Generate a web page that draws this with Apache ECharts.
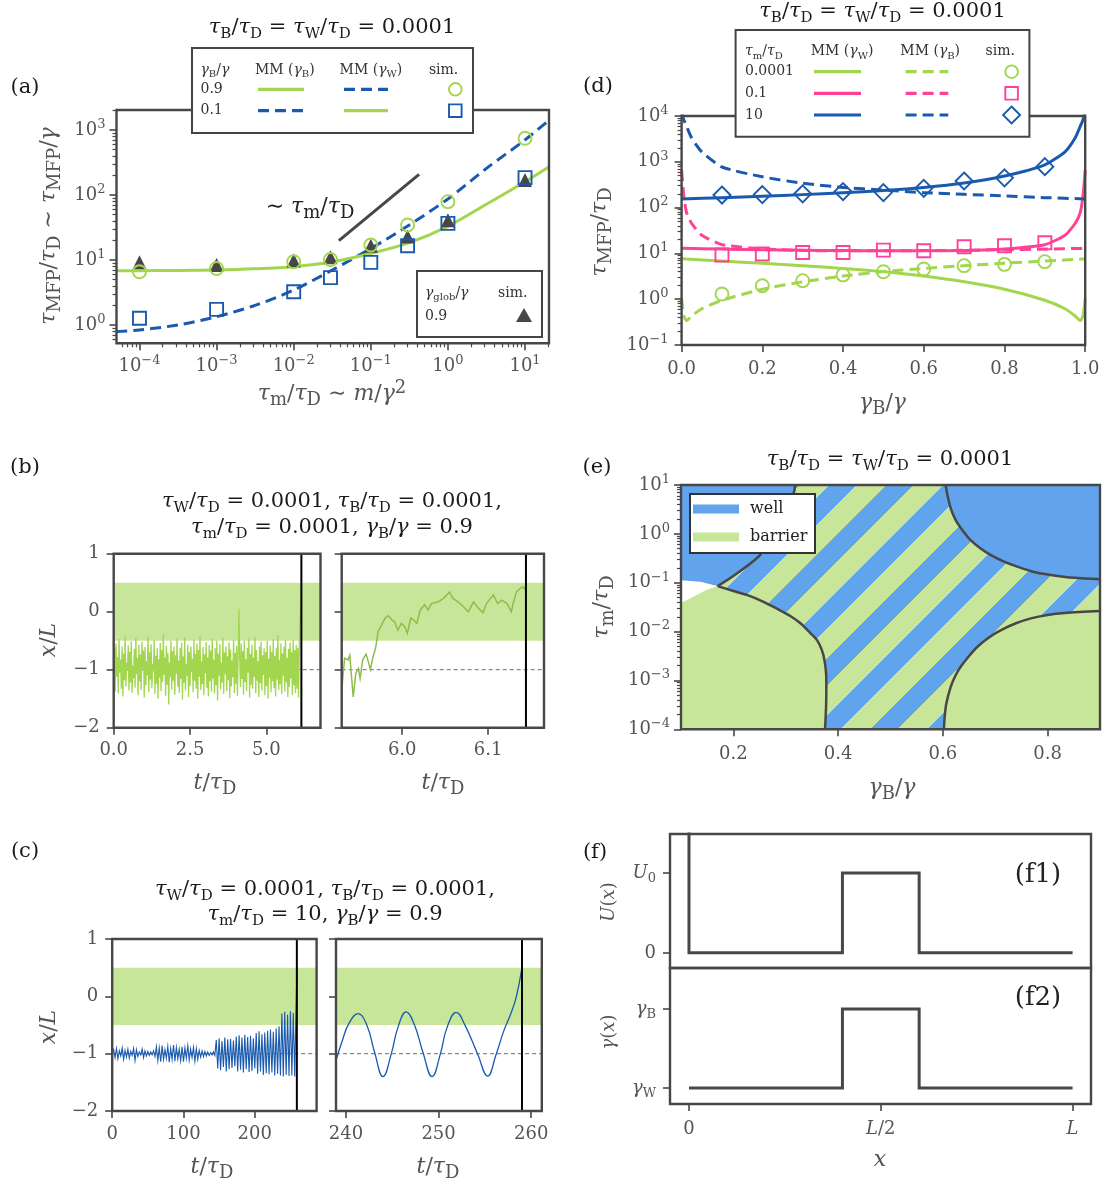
<!DOCTYPE html>
<html>
<head>
<meta charset="utf-8">
<script src="https://cdn.jsdelivr.net/npm/echarts@6/dist/echarts.min.js"></script>
<style>
html,body{margin:0;padding:0;background:#fff;}
#chart{width:1104px;height:1182px;}
</style>
</head>
<body>
<div id="chart"></div>
<script>
// ================= DATA =================
// ---- Panel (a) ----
const aTickExpX = [-4, -3, -2, -1, 0, 1];
const aTickExpY = [0, 1, 2, 3];
const aSimX = [1e-4, 1e-3, 1e-2, 0.03, 0.1, 0.3, 1, 10];
const aSimCircle = [6.6, 7.4, 9.4, 10.2, 17, 34.6, 79, 745];
const aSimSquare = [1.27, 1.74, 3.25, 5.35, 9.2, 16.6, 36.6, 185];
const aSimTriangle = [9.2, 8.4, 9.8, 11, 16.5, 23, 41, 170];
const aCurveX = [5e-5, 1e-4, 3.16e-4, 1e-3, 3.16e-3, 1e-2, 3.16e-2, 0.1, 0.316, 1, 3.16, 10, 20.5];
const aCurveGreen = [6.8, 6.85, 6.9, 7.0, 7.3, 7.9, 9.4, 12.6, 18.5, 33, 72, 160, 273];
const aCurveBlue = [0.79, 0.84, 1.0, 1.34, 2.0, 3.45, 7.0, 15, 34.6, 87, 257, 705, 1420];
const aSlopeX = [0.0386, 0.4227];
const aSlopeY = [19.8, 208];

// ---- Panel (d) ----
const dTicksX = [0, 0.2, 0.4, 0.6, 0.8, 1.0];
const dTickExpY = [-1, 0, 1, 2, 3, 4];
const dXSolid = [0, 0.1, 0.2, 0.3, 0.4, 0.5, 0.6, 0.7, 0.8, 0.9, 0.95, 0.975, 0.988, 0.995, 1.0];
const dGreenSolid = [7.6, 6.8, 6.1, 5.4, 4.7, 4.0, 3.2, 2.4, 1.65, 0.95, 0.62, 0.43, 0.34, 0.45, 1.05];
const dPinkSolid = [12.9, 12.4, 12.0, 11.7, 11.5, 11.4, 11.4, 11.6, 12.5, 15.5, 25, 45, 80, 200, 660];
const dBlueSolid = [155, 165, 176, 192, 212, 236, 275, 345, 490, 860, 1650, 3300, 6000, 8500, 12000];
const dXDashed = [0, 0.005, 0.012, 0.025, 0.05, 0.1, 0.2, 0.3, 0.4, 0.5, 0.6, 0.7, 0.8, 0.9, 1.0];
const dGreenDashed = [1.05, 0.45, 0.34, 0.43, 0.62, 0.95, 1.65, 2.4, 3.2, 4.0, 4.7, 5.4, 6.1, 6.8, 7.6];
const dPinkDashed = [660, 200, 80, 45, 25, 15.5, 12.5, 11.6, 11.4, 11.4, 11.5, 11.7, 12.0, 12.4, 12.9];
const dBlueDashed = [12000, 8500, 6000, 3300, 1650, 770, 470, 340, 275, 242, 212, 195, 180, 165, 155];
const dSimX = [0.1, 0.2, 0.3, 0.4, 0.5, 0.6, 0.7, 0.8, 0.9];
const dSimGreen = [1.3, 1.97, 2.54, 3.39, 3.98, 4.57, 5.4, 5.76, 6.6];
const dSimPink = [9.2, 9.7, 10.5, 10.5, 11.8, 11.4, 14.0, 14.7, 17.1];
const dSimBlue = [188, 192, 200, 224, 213, 263, 381, 447, 783];

// ---- Panels (b), (c) shared ----
const xLTicks = [-2, -1, 0, 1];
const barrierLow = -0.5, barrierHigh = 0.5, wellCenter = -1;

// ---- Panel (b) ----
const bLeftTicksX = [0, 2.5, 5.0];
const bRightTicksX = [6.0, 6.1];
const bHitTime = 6.144;
const bLeftT0 = 0, bLeftDt = 0.025;
const bLeftX = [
 -1.25,-0.62,-1.38,-0.55,-1.12,-0.78,-1.41,-0.47,-1.05,-0.83,-1.33,-0.60,-1.46,-0.72,-1.18,-0.41,-1.29,-0.88,-1.02,-0.58,
 -1.36,-0.69,-1.22,-0.51,-1.40,-0.93,-1.15,-0.64,-1.31,-0.45,-1.08,-0.80,-1.44,-0.57,-1.20,-0.74,-1.35,-0.52,-0.98,-0.67,
 -1.48,-0.61,-1.27,-0.85,-1.10,-0.43,-1.39,-0.70,-1.17,-0.56,-1.32,-0.90,-1.03,-0.49,-1.42,-0.76,-1.24,-0.63,-1.50,-0.82,
 -1.14,-0.54,-1.37,-0.66,-1.21,-0.38,-1.09,-0.79,-1.45,-0.59,-1.26,-0.71,-1.60,-0.87,-1.13,-0.50,-1.34,-0.68,-1.19,-0.60,
 -1.43,-0.75,-1.07,-0.46,-1.30,-0.84,-1.40,-0.62,-1.16,-0.53,-1.52,-0.77,-1.23,-0.44,-1.36,-0.90,-1.11,-0.57,-1.47,-0.69,
 -1.28,-0.60,-1.04,-0.81,-1.39,-0.48,-1.19,-0.73,-1.33,-0.55,-1.50,-0.66,-1.12,-0.42,-1.35,-0.86,-1.25,-0.61,-1.44,-0.74,
 -1.06,-0.52,-1.31,-0.79,-1.46,-0.58,-1.20,-0.67,-1.38,-0.47,-1.15,-0.83,-1.41,-0.63,-1.27,-0.50,-1.53,-0.72,-1.10,-0.56,
 -1.34,-0.88,-1.22,-0.45,-1.42,-0.70,-1.08,-0.60,-1.37,-0.77,-1.18,-0.53,-1.49,-0.65,-1.29,-0.84,-1.13,-0.48,-1.40,-0.71,
 -1.24,-0.59,-1.45,-0.74,0.05,-0.80,-1.30,-0.55,-1.16,-0.68,-1.43,-0.50,-1.21,-0.82,-1.37,-0.62,-1.05,-0.46,-1.48,-0.73,
 -1.26,-0.57,-1.33,-0.79,-1.12,-0.44,-1.41,-0.66,-1.19,-0.85,-1.47,-0.60,-1.23,-0.52,-1.36,-0.75,-1.09,-0.63,-1.44,-0.70,
 -1.28,-0.50,-1.50,-0.81,-1.14,-0.58,-1.39,-0.69,-1.20,-0.47,-1.32,-0.76,-1.46,-0.62,-1.17,-0.40,-1.35,-0.83,-1.25,-0.55,
 -1.42,-0.72,-1.10,-0.60,-1.38,-0.49,-1.22,-0.80,-1.47,-0.64,-1.30,-0.53,-1.15,-0.70,-1.44,-0.48,-1.27,-0.66,-1.40,-0.57,
 -1.33,-0.62,-1.48
];
const bLeftTailT = [6.075, 6.1, 6.125, 6.144];
const bLeftTailX = [-0.6, -0.15, 0.1, 0.35];
const bRightT = [5.93,5.933,5.937,5.939,5.943,5.946,5.949,5.951,5.954,5.958,5.960,5.963,5.966,5.969,5.972,5.976,5.980,5.984,5.988,5.991,5.995,5.999,6.003,6.006,6.010,6.013,6.017,6.021,6.026,6.030,6.034,6.042,6.048,6.052,6.055,6.059,6.065,6.071,6.077,6.083,6.087,6.094,6.098,6.106,6.111,6.116,6.122,6.127,6.129,6.133,6.137,6.141,6.143];
const bRightX = [-1.29,-0.80,-0.83,-0.75,-1.47,-1.06,-0.98,-1.15,-0.83,-0.73,-0.83,-1.0,-0.78,-0.63,-0.34,-0.23,-0.11,-0.07,-0.14,-0.17,-0.32,-0.20,-0.26,-0.37,-0.11,-0.14,-0.20,0.03,0.12,0.03,0.14,0.17,0.23,0.29,0.34,0.23,0.17,0.09,0.0,0.17,0.09,-0.02,0.14,0.29,0.14,0.20,0.14,0.0,0.14,0.34,0.40,0.43,0.37];

// ---- Panel (c) ----
const cLeftTicksX = [0, 100, 200];
const cRightTicksX = [240, 250, 260];
const cHitTime = 259.0;
const cLeftT0 = 0, cLeftDt = 2.0;
const cLeftX = [
 -1.00,-0.93,-1.07,-0.91,-1.09,-0.95,-1.04,-0.90,-1.10,-0.94,-1.06,-0.92,-1.08,-0.96,-1.03,-0.91,-1.12,-0.93,-1.05,-0.97,-1.02,-0.92,-1.07,-0.95,-1.04,-0.96,-1.03,-0.97,-1.02,-0.95,-1.05,
 -0.88,-1.12,-0.90,-1.14,-0.86,-1.10,-0.93,-1.08,-0.87,-1.15,-0.91,-1.10,-0.85,-1.13,-0.89,-1.09,-0.92,-1.12,-0.88,-1.14,-0.90,-1.08,-0.86,-1.11,-0.92,-1.07,-0.89,-1.13,-0.91,-1.10,-0.94,-1.06,-0.95,-1.05,-0.96,-1.04,-0.97,-1.03,-0.98,-1.02,-0.97,-1.03,
 -0.76,-1.26,-0.73,-1.29,-0.78,-1.23,-0.72,-1.31,-0.75,-1.27,-0.74,-1.25,-0.77,
 -1.22,-0.70,-1.31,-0.68,-1.28,-0.72,-1.33,-0.67,-1.27,-0.71,-1.32,-0.69,-1.30,-0.73,-1.26,
 -0.64,-1.35,-0.61,-1.31,-0.66,-1.37,-0.63,-1.34,-0.60,-1.36,-0.58,-1.33,-0.62,-1.38,-0.56,-1.35,-0.52,
 -1.38,-0.30,-1.40,-0.27,-1.37,-0.32,-1.39,-0.26,-1.38,-0.29,-1.40
];
const cLeftTailT = [257.3, 258.2, 259.0];
const cLeftTailX = [-0.55, -0.05, 0.5];
const cRightT = [239.0,239.6,240.3,241.3,242.3,243.1,244.0,244.9,245.6,246.5,247.4,248.3,249.3,250.2,250.9,251.9,252.9,254.2,255.3,256.2,257.0,257.8,258.4,259.0];
const cRightX = [-1.08,-0.78,-0.48,-0.30,-0.52,-0.98,-1.40,-1.00,-0.55,-0.27,-0.50,-0.97,-1.40,-1.00,-0.55,-0.28,-0.52,-1.00,-1.39,-1.02,-0.62,-0.30,0.0,0.50];

// ---- Panel (e) ----
const eTicksX = [0.2, 0.4, 0.6, 0.8];
const eTickExpY = [-4, -3, -2, -1, 0, 1];
const eC1LowX = [0.170, 0.200, 0.2257, 0.2576, 0.283, 0.3086, 0.328, 0.347, 0.360, 0.369, 0.374, 0.377, 0.3775, 0.377, 0.375];
const eC1LowY = [-1.07, -1.17, -1.25, -1.39, -1.53, -1.68, -1.83, -2.03, -2.18, -2.38, -2.59, -2.86, -3.13, -3.54, -4.0];
const eC1UpX = [0.170, 0.2066, 0.251, 0.2897, 0.315, 0.318];
const eC1UpY = [-1.07, -0.81, -0.43, 0.215, 0.83, 1.0];
const eWhiteTopX = [0.1, 0.1364, 0.170];
const eWhiteTopY = [-0.947, -0.98, -1.07];
const eWhiteBotX = [0.1, 0.1235, 0.149, 0.170];
const eWhiteBotY = [-1.42, -1.29, -1.15, -1.07];
const eC2X = [0.6054, 0.6086, 0.615, 0.6245, 0.637, 0.653, 0.672, 0.691, 0.717, 0.742, 0.774, 0.800, 0.851, 0.9];
const eC2Y = [1.0, 0.80, 0.52, 0.28, 0.08, -0.13, -0.30, -0.43, -0.57, -0.67, -0.78, -0.83, -0.90, -0.93];
const eC3X = [0.602, 0.6034, 0.6066, 0.615, 0.6245, 0.634, 0.650, 0.666, 0.688, 0.711, 0.7395, 0.768, 0.800, 0.832, 0.9];
const eC3Y = [-4.0, -3.75, -3.47, -3.13, -2.89, -2.72, -2.50, -2.31, -2.12, -1.97, -1.83, -1.73, -1.66, -1.62, -1.58];

// ---- Panel (f) ----
const fEdgesX = [0, 0.4, 0.6, 1.0];
const fULevels = [0, 1, 0];
const fUWallTop = 1.7;
const fGammaLevels = [0, 1, 0];
const fTicksX = [0, 0.5, 1];
const fTickLabelsX = ['{n|0}', '{i|L}{n|/2}', '{i|L}'];
const fTicksY = [0, 1];
const fTickLabelsU = ['{n|0}', '{i|U}{s|0}'];
const fTickLabelsG = ['{i|γ}{s|W}', '{i|γ}{s|B}'];

// ================= STYLE =================
const FONT = 'DejaVu Serif';
const GREEN = '#a2d64f', BLUE = '#1a5aae', PINK = '#ff4296', DARK = '#474747', GREY = '#555555';
const BAND = '#c8e69a', E_BLUE = '#62a3ee', E_GREEN = '#c8e69a';
const LBL = 18;

function rich(size, color, subRatio) {
  const sub = Math.round(size * (subRatio || 0.72)), lh = Math.round(size * 1.35);
  const b = {fontFamily: FONT, color: color, fill: color};
  return {
    n: Object.assign({fontSize: size, lineHeight: lh}, b),
    i: Object.assign({fontSize: size, lineHeight: lh, fontStyle: 'italic'}, b),
    s: Object.assign({fontSize: sub, lineHeight: sub, verticalAlign: 'bottom'}, b),
    p: Object.assign({fontSize: sub, lineHeight: sub, verticalAlign: 'top'}, b)
  };
}
const L10 = v => Math.log10(v);
const lg = arr => arr.map(L10);
const zip = (xs, ys) => xs.map((x, i) => [x, ys[i]]);
const minus = v => (v < 0 ? '\u2212' : '') + Math.abs(v);
const logFmt = v => '{n|10}{p|' + minus(Math.round(v)) + '}';
const numFmt = d => (v => '{n|' + (v < 0 ? '\u2212' : '') + Math.abs(v).toFixed(d) + '}');
function minorOf(lo, hi) {
  const out = [];
  for (let d = Math.floor(lo) - 1; d <= Math.ceil(hi); d++)
    for (let k = 2; k <= 9; k++) { const v = d + Math.log10(k); if (v > lo && v < hi) out.push(v); }
  return out;
}
const tau = s => '{i|τ}{s|' + s + '}';
const gam = s => '{i|γ}{s|' + s + '}';

// ================= BUILDERS =================
const GR = [], XA = [], YA = [], SE = [], GFX = [];
function grid(l, t, w, h) {
  GR.push({left: l, top: t, width: w, height: h, show: true, borderColor: DARK, borderWidth: 2.4,
    backgroundColor: 'rgba(0,0,0,0)', z: 10});
  return GR.length - 1;
}
function axis(list, gi, min, max, pos, ticks, fmt, o) {
  o = o || {};
  const has = ticks && ticks.length > 0;
  list.push({
    type: 'value', gridIndex: gi, min: min, max: max, position: pos, offset: 0, z: 12,
    axisLine: {show: false, onZero: false}, splitLine: {show: false}, splitArea: {show: false},
    axisTick: {show: has, inside: false, length: o.len || 7, lineStyle: {color: DARK, width: o.tw || 1.6}, customValues: has ? ticks : undefined},
    minorTick: {show: false},
    axisLabel: {show: has && !!fmt, customValues: has ? ticks : undefined, formatter: fmt || undefined, margin: o.margin || 12,
      color: GREY, fontFamily: FONT, fontSize: LBL, rich: rich(LBL, GREY), hideOverlap: false}
  });
  return list.length - 1;
}
function lineS(xi, yi, data, color, width, dash, z, smooth) {
  SE.push({type: 'line', xAxisIndex: xi, yAxisIndex: yi, data: data, showSymbol: false, symbol: 'none',
    smooth: smooth || false, clip: true, silent: true,
    lineStyle: {color: color, width: width, type: dash || 'solid', cap: 'butt', join: 'miter'},
    itemStyle: {color: color}, z: z || 3});
}
function scatS(xi, yi, data, symbol, size, stroke, fill, z) {
  SE.push({type: 'scatter', xAxisIndex: xi, yAxisIndex: yi, data: data, symbol: symbol, symbolSize: size, silent: true,
    itemStyle: {color: fill, borderColor: stroke, borderWidth: fill === 'rgba(0,0,0,0)' ? 1.9 : 0, opacity: 1}, z: z || 5});
}
function polyS(xi, yi, pts, fill, z) {
  SE.push({type: 'custom', xAxisIndex: xi, yAxisIndex: yi, coordinateSystem: 'cartesian2d', silent: true, z: z,
    data: [[pts[0][0], pts[0][1]]], encode: {x: 0, y: 1},
    renderItem: (p, api) => ({type: 'polygon', shape: {points: pts.map(q => api.coord(q))}, style: {fill: fill, stroke: null}})});
}
function bandS(xi, yi, x0, x1, lo, hi) {
  SE.push({type: 'custom', xAxisIndex: xi, yAxisIndex: yi, coordinateSystem: 'cartesian2d', silent: true, z: 1,
    data: [[x0, lo, x1, hi]], encode: {x: [0, 2], y: [1, 3]},
    renderItem: (p, api) => {
      const a = api.coord([api.value(0), api.value(3)]), b = api.coord([api.value(2), api.value(1)]);
      return {type: 'rect', shape: {x: a[0], y: a[1], width: b[0] - a[0], height: b[1] - a[1]}, style: {fill: BAND}};
    }});
}
function gText(x, y, text, size, color, align, va, rot, subRatio) {
  GFX.push({type: 'text', x: x, y: y, rotation: rot || 0, z: 100, silent: true,
    style: {text: text, fill: color, fontFamily: FONT, fontSize: size, align: align || 'center', verticalAlign: va || 'middle',
      textAlign: align || 'center', textVerticalAlign: va || 'middle', rich: rich(size, color, subRatio)}});
}
function gLine(x1, y1, x2, y2, color, w, dash) {
  GFX.push({type: 'line', z: 100, silent: true, shape: {x1: x1, y1: y1, x2: x2, y2: y2},
    style: {stroke: color, lineWidth: w, lineDash: dash || null, lineCap: 'butt'}});
}
function gRect(x, y, w, h, fill, stroke, lw, z) {
  GFX.push({type: 'rect', z: z || 99, silent: true, shape: {x: x, y: y, width: w, height: h}, style: {fill: fill, stroke: stroke, lineWidth: lw || 0}});
}
function gCircle(cx, cy, r, stroke) {
  GFX.push({type: 'circle', z: 100, silent: true, shape: {cx: cx, cy: cy, r: r}, style: {fill: 'none', stroke: stroke, lineWidth: 1.9}});
}
function gPoly(pts, fill, stroke, lw) {
  GFX.push({type: 'polygon', z: 100, silent: true, shape: {points: pts}, style: {fill: fill, stroke: stroke || null, lineWidth: lw || 0}});
}

// stripe pattern for (e)
function stripeCanvas() {
  const P = 57, W = 27, c = 3;
  const cv = document.createElement('canvas'); cv.width = P; cv.height = P;
  const ctx = cv.getContext('2d'); const img = ctx.createImageData(P, P);
  const b = [0x62, 0xa3, 0xee], g = [0xc8, 0xe6, 0x9a];
  for (let y = 0; y < P; y++) for (let x = 0; x < P; x++) {
    const k = (((x + y - c) % P) + P) % P; const col = k < W ? b : g; const o = (y * P + x) * 4;
    img.data[o] = col[0]; img.data[o + 1] = col[1]; img.data[o + 2] = col[2]; img.data[o + 3] = 255;
  }
  ctx.putImageData(img, 0, 0);
  return cv;
}

// ================= PANEL (a) =================
const gA = grid(116.5, 110, 432.5, 233.3);
const AX0 = -4.298, AX1 = 1.311, AY0 = -0.282, AY1 = 3.308;
const axA = axis(XA, gA, AX0, AX1, 'bottom', aTickExpX, logFmt, {margin: 11});
axis(XA, gA, AX0, AX1, 'bottom', minorOf(AX0, AX1), null, {len: 4, tw: 1.2});
const ayA = axis(YA, gA, AY0, AY1, 'left', aTickExpY, logFmt, {margin: 11});
axis(YA, gA, AY0, AY1, 'left', minorOf(AY0, AY1), null, {len: 4, tw: 1.2});
lineS(axA, ayA, zip(lg(aCurveX), lg(aCurveBlue)), BLUE, 3, [11, 6], 3, 0.3);
lineS(axA, ayA, zip(lg(aCurveX), lg(aCurveGreen)), GREEN, 3, 'solid', 3, 0.3);
lineS(axA, ayA, zip(lg(aSlopeX), lg(aSlopeY)), DARK, 3, 'solid', 3);
scatS(axA, ayA, zip(lg(aSimX), lg(aSimTriangle)), 'triangle', 14, DARK, DARK, 4);
scatS(axA, ayA, zip(lg(aSimX), lg(aSimCircle)), 'circle', 13, GREEN, 'rgba(0,0,0,0)', 5);
scatS(axA, ayA, zip(lg(aSimX), lg(aSimSquare)), 'rect', 13, BLUE, 'rgba(0,0,0,0)', 5);

// ================= PANEL (d) =================
const gD = grid(681.6, 116, 403.6, 229);
const axD = axis(XA, gD, 0, 1, 'bottom', dTicksX, numFmt(1), {margin: 12});
const ayD = axis(YA, gD, -1, 4, 'left', dTickExpY, logFmt, {margin: 13});
axis(YA, gD, -1, 4, 'left', minorOf(-1, 4), null, {len: 4, tw: 1.2});
lineS(axD, ayD, zip(dXSolid, lg(dGreenSolid)), GREEN, 3, 'solid', 3, 0.2);
lineS(axD, ayD, zip(dXDashed, lg(dGreenDashed)), GREEN, 3, [11, 6], 3, 0.2);
lineS(axD, ayD, zip(dXSolid, lg(dPinkSolid)), PINK, 3, 'solid', 3, 0.2);
lineS(axD, ayD, zip(dXDashed, lg(dPinkDashed)), PINK, 3, [11, 6], 3, 0.2);
lineS(axD, ayD, zip(dXSolid, lg(dBlueSolid)), BLUE, 3, 'solid', 3, 0.2);
lineS(axD, ayD, zip(dXDashed, lg(dBlueDashed)), BLUE, 3, [11, 6], 3, 0.2);
scatS(axD, ayD, zip(dSimX, lg(dSimGreen)), 'circle', 13, GREEN, 'rgba(0,0,0,0)', 5);
scatS(axD, ayD, zip(dSimX, lg(dSimPink)), 'rect', 13, PINK, 'rgba(0,0,0,0)', 5);
scatS(axD, ayD, zip(dSimX, lg(dSimBlue)), 'diamond', 17, BLUE, 'rgba(0,0,0,0)', 5);

// ================= PANELS (b), (c) =================
function tracePanel(left, top, w, h, x0, x1, ticksX, fmtX, showY, yMargin, xMargin) {
  const g = grid(left, top, w, h);
  const xi = axis(XA, g, x0, x1, 'bottom', ticksX, fmtX, {margin: xMargin});
  const yi = axis(YA, g, -2, 1, 'left', xLTicks, showY ? numFmt(0) : null, {margin: yMargin});
  bandS(xi, yi, x0, x1, barrierLow, barrierHigh);
  lineS(xi, yi, [[x0, wellCenter], [x1, wellCenter]], '#8a8a8a', 1.2, [4, 3], 2);
  return [xi, yi, x0, x1];
}
const B1 = tracePanel(113.7, 553.7, 206.8, 174, 0, 6.77, bLeftTicksX, numFmt(1), true, 14, 11);
const B2 = tracePanel(341.7, 553.7, 202.3, 174, 5.9296, 6.165, bRightTicksX, numFmt(1), false, 14, 11);
const bLeftData = bLeftX.map((v, i) => [bLeftT0 + i * bLeftDt, v]).concat(zip(bLeftTailT, bLeftTailX));
lineS(B1[0], B1[1], bLeftData, GREEN, 1.3, 'solid', 3);
lineS(B2[0], B2[1], zip(bRightT, bRightX), '#8fbd4c', 1.5, 'solid', 3);
lineS(B1[0], B1[1], [[bHitTime, -2], [bHitTime, 1]], '#000', 2, 'solid', 4);
lineS(B2[0], B2[1], [[bHitTime, -2], [bHitTime, 1]], '#000', 2, 'solid', 4);

const C1 = tracePanel(112.2, 939, 204.4, 172, 0, 286.7, cLeftTicksX, numFmt(0), true, 14, 11);
const C2 = tracePanel(336, 939, 205.8, 172, 238.93, 261.14, cRightTicksX, numFmt(0), false, 14, 11);
const cLeftData = cLeftX.map((v, i) => [cLeftT0 + i * cLeftDt, v]).concat(zip(cLeftTailT, cLeftTailX));
lineS(C1[0], C1[1], cLeftData, BLUE, 1.1, 'solid', 3);
lineS(C2[0], C2[1], zip(cRightT, cRightX), BLUE, 1.3, 'solid', 3, 0.45);
lineS(C1[0], C1[1], [[cHitTime, -2], [cHitTime, 1]], '#000', 2, 'solid', 4);
lineS(C2[0], C2[1], [[cHitTime, -2], [cHitTime, 1]], '#000', 2, 'solid', 4);

// ================= PANEL (e) =================
const gE = grid(681, 485, 419, 244.3);
const axE = axis(XA, gE, 0.1, 0.9, 'bottom', eTicksX, numFmt(1), {margin: 13});
const ayE = axis(YA, gE, -4, 1, 'left', eTickExpY, logFmt, {margin: 11});
axis(YA, gE, -4, 1, 'left', minorOf(-4, 1), null, {len: 4, tw: 1.2});
const stripes = {image: stripeCanvas(), repeat: 'repeat'};
polyS(axE, ayE, [[0.1, 1], [0.9, 1], [0.9, -4], [0.1, -4]], stripes, 1);
const c1Up = zip(eC1UpX, eC1UpY), c1Low = zip(eC1LowX, eC1LowY);
const wTop = zip(eWhiteTopX, eWhiteTopY), wBot = zip(eWhiteBotX, eWhiteBotY);
polyS(axE, ayE, [[0.1, 1]].concat(c1Up.slice().reverse(), wTop.slice(0, -1).reverse()), E_BLUE, 2);
polyS(axE, ayE, wTop.concat(wBot.slice(0, -1).reverse()), '#ffffff', 2);
polyS(axE, ayE, [[0.1, -4]].concat(wBot, c1Low.slice(1)), E_GREEN, 2);
polyS(axE, ayE, zip(eC2X, eC2Y).concat([[0.9, 1]]), E_BLUE, 2);
polyS(axE, ayE, zip(eC3X, eC3Y).concat([[0.9, -4]]), E_GREEN, 2);
lineS(axE, ayE, c1Up, DARK, 2.5, 'solid', 3, 0.3);
lineS(axE, ayE, c1Low, DARK, 2.5, 'solid', 3, 0.3);
lineS(axE, ayE, zip(eC2X, eC2Y), DARK, 2.5, 'solid', 3, 0.3);
lineS(axE, ayE, zip(eC3X, eC3Y), DARK, 2.5, 'solid', 3, 0.3);

// ================= PANEL (f) =================
const gF1 = grid(670, 834, 421, 134);
const gF2 = grid(670, 968, 421, 136);
const axF1 = axis(XA, gF1, -0.0495, 1.048, 'bottom', [], null);
const ayF1 = axis(YA, gF1, -0.19, 1.49, 'left', fTicksY, v => fTickLabelsU[fTicksY.indexOf(Math.round(v))], {margin: 14});
const axF2 = axis(XA, gF2, -0.0495, 1.048, 'bottom', fTicksX, v => fTickLabelsX[fTicksX.indexOf(v)], {margin: 13});
const ayF2 = axis(YA, gF2, -0.203, 1.519, 'left', fTicksY, v => fTickLabelsG[fTicksY.indexOf(Math.round(v))], {margin: 14});
function stepPath(edges, levels, startY) {
  const pts = [];
  if (startY !== undefined) pts.push([edges[0], startY]);
  for (let i = 0; i < levels.length; i++) { pts.push([edges[i], levels[i]]); pts.push([edges[i + 1], levels[i]]); }
  return pts;
}
lineS(axF1, ayF1, stepPath(fEdgesX, fULevels, fUWallTop), DARK, 3, 'solid', 3);
lineS(axF2, ayF2, stepPath(fEdgesX, fGammaLevels), DARK, 3, 'solid', 3);

// ================= TEXT & LEGENDS =================
const TITLE_C = '#1a1a1a', AX_C = '#555555', LEG_C = '#333333';
const TS = 21, AS = 22, AR = 0.8;
const EQ = tau('B') + '{n|/}' + tau('D') + '{n| = }' + tau('W') + '{n|/}' + tau('D') + '{n| = 0.0001}';
gText(25, 88, '{n|(a)}', 21, TITLE_C);
gText(25, 468, '{n|(b)}', 21, TITLE_C);
gText(25, 852, '{n|(c)}', 21, TITLE_C);
gText(598, 87, '{n|(d)}', 21, TITLE_C);
gText(597, 468, '{n|(e)}', 21, TITLE_C);
gText(595, 853, '{n|(f)}', 21, TITLE_C);
gText(332, 28, EQ, TS, TITLE_C);
gText(882.5, 12, EQ, TS, TITLE_C);
gText(890, 460, EQ, TS, TITLE_C);
gText(332, 502, tau('W') + '{n|/}' + tau('D') + '{n| = 0.0001, }' + tau('B') + '{n|/}' + tau('D') + '{n| = 0.0001,}', TS, TITLE_C);
gText(332, 528, tau('m') + '{n|/}' + tau('D') + '{n| = 0.0001, }' + gam('B') + '{n|/}{i|γ}{n| = 0.9}', TS, TITLE_C);
gText(325, 890, tau('W') + '{n|/}' + tau('D') + '{n| = 0.0001, }' + tau('B') + '{n|/}' + tau('D') + '{n| = 0.0001,}', TS, TITLE_C);
gText(325, 915, tau('m') + '{n|/}' + tau('D') + '{n| = 10, }' + gam('B') + '{n|/}{i|γ}{n| = 0.9}', TS, TITLE_C);
const R90 = Math.PI / 2;
gText(49, 226, tau('MFP') + '{n|/}' + tau('D') + '{n| ∼ }' + tau('MFP') + '{n|/}{i|γ}', AS, AX_C, 'center', 'middle', R90, AR);
gText(332, 394, tau('m') + '{n|/}' + tau('D') + '{n| ∼ }{i|m}{n|/}{i|γ}{p|2}', AS, AX_C, 'center', 'middle', 0, AR);
gText(600, 232, tau('MFP') + '{n|/}' + tau('D'), AS, AX_C, 'center', 'middle', R90, AR);
gText(882.5, 403, gam('B') + '{n|/}{i|γ}', AS, AX_C, 'center', 'middle', 0, AR);
gText(49, 640, '{i|x}{n|/}{i|L}', AS, AX_C, 'center', 'middle', R90);
gText(215, 783, '{i|t}{n|/}' + tau('D'), AS, AX_C, 'center', 'middle', 0, AR);
gText(443, 783, '{i|t}{n|/}' + tau('D'), AS, AX_C, 'center', 'middle', 0, AR);
gText(49, 1027, '{i|x}{n|/}{i|L}', AS, AX_C, 'center', 'middle', R90);
gText(212, 1167, '{i|t}{n|/}' + tau('D'), AS, AX_C, 'center', 'middle', 0, AR);
gText(438, 1167, '{i|t}{n|/}' + tau('D'), AS, AX_C, 'center', 'middle', 0, AR);
gText(602, 607, tau('m') + '{n|/}' + tau('D'), AS, AX_C, 'center', 'middle', R90, AR);
gText(892, 788, gam('B') + '{n|/}{i|γ}', AS, AX_C, 'center', 'middle', 0, AR);
gText(609, 902, '{i|U}{n|(}{i|x}{n|)}', 18, AX_C, 'center', 'middle', R90);
gText(609, 1032, '{i|γ}{n|(}{i|x}{n|)}', 18, AX_C, 'center', 'middle', R90);
gText(880, 1160, '{i|x}', AS, AX_C);
gText(1038, 875, '{n|(f1)}', 26, '#222');
gText(1038, 998, '{n|(f2)}', 26, '#222');
gText(310, 207, '{n|∼ }' + tau('m') + '{n|/}' + tau('D'), AS, '#222', 'center', 'middle', 0, AR);

// legend (a) main
gRect(192, 48, 281, 85, '#fff', '#444', 2);
const LS = 14;
gText(200.5, 70, gam('B') + '{n|/}{i|γ}', LS, LEG_C, 'left');
gText(254.9, 70, '{n|MM (}' + gam('B') + '{n|)}', LS, LEG_C, 'left');
gText(339.6, 70, '{n|MM (}' + gam('W') + '{n|)}', LS, LEG_C, 'left');
gText(428.9, 70, '{n|sim.}', LS, LEG_C, 'left');
gText(200.5, 89.3, '{n|0.9}', LS, LEG_C, 'left');
gText(200.5, 110.7, '{n|0.1}', LS, LEG_C, 'left');
gLine(258, 89.3, 304, 89.3, GREEN, 3.2);
gLine(344, 89.3, 388, 89.3, BLUE, 3.2, [11, 6]);
gCircle(455.3, 89.3, 6.3, GREEN);
gLine(258, 110.7, 304, 110.7, BLUE, 3.2, [11, 6]);
gLine(344, 110.7, 388, 110.7, GREEN, 3.2);
GFX.push({type: 'rect', z: 100, silent: true, shape: {x: 449, y: 104.4, width: 12.6, height: 12.6}, style: {fill: 'none', stroke: BLUE, lineWidth: 1.9}});
// legend (a) glob
gRect(417, 271, 125, 66, '#fff', '#444', 2);
gText(425, 293, gam('glob') + '{n|/}{i|γ}', LS, LEG_C, 'left');
gText(498, 293, '{n|sim.}', LS, LEG_C, 'left');
gText(425, 316, '{n|0.9}', LS, LEG_C, 'left');
gPoly([[524, 308], [532, 322], [516, 322]], DARK);
// legend (d)
gRect(735.6, 30, 293.8, 106.7, '#fff', '#444', 2);
gText(745, 51.7, tau('m') + '{n|/}' + tau('D'), LS, LEG_C, 'left');
gText(810.7, 51.7, '{n|MM (}' + gam('W') + '{n|)}', LS, LEG_C, 'left');
gText(900.3, 51.7, '{n|MM (}' + gam('B') + '{n|)}', LS, LEG_C, 'left');
gText(985.6, 51.7, '{n|sim.}', LS, LEG_C, 'left');
const dRows = [[71.7, '0.0001', GREEN], [93.3, '0.1', PINK], [115, '10', BLUE]];
dRows.forEach(r => {
  gText(745, r[0], '{n|' + r[1] + '}', LS, LEG_C, 'left');
  gLine(814, r[0], 861, r[0], r[2], 3.2);
  gLine(905.6, r[0], 948.3, r[0], r[2], 3.2, [11, 6]);
});
gCircle(1011.6, 71.7, 6.3, GREEN);
GFX.push({type: 'rect', z: 100, silent: true, shape: {x: 1005.3, y: 87, width: 12.6, height: 12.6}, style: {fill: 'none', stroke: PINK, lineWidth: 1.9}});
gPoly([[1011.6, 106.5], [1020.1, 115], [1011.6, 123.5], [1003.1, 115]], 'none', BLUE, 1.9);
// legend (e)
gRect(690, 494, 125, 59, '#fff', '#333', 2);
gRect(693, 504.5, 46, 9, E_BLUE, null, 0, 100);
gRect(693, 532.5, 46, 9, E_GREEN, null, 0, 100);
gText(750, 509, '{n|well}', 16, '#222', 'left');
gText(750, 537, '{n|barrier}', 16, '#222', 'left');

// ================= CHART =================
const chart = echarts.init(document.getElementById('chart'), null, {renderer: 'canvas'});
chart.setOption({
  animation: false,
  backgroundColor: '#ffffff',
  textStyle: {fontFamily: FONT},
  grid: GR, xAxis: XA, yAxis: YA, series: SE,
  graphic: {elements: GFX}
});
</script>
</body>
</html>
